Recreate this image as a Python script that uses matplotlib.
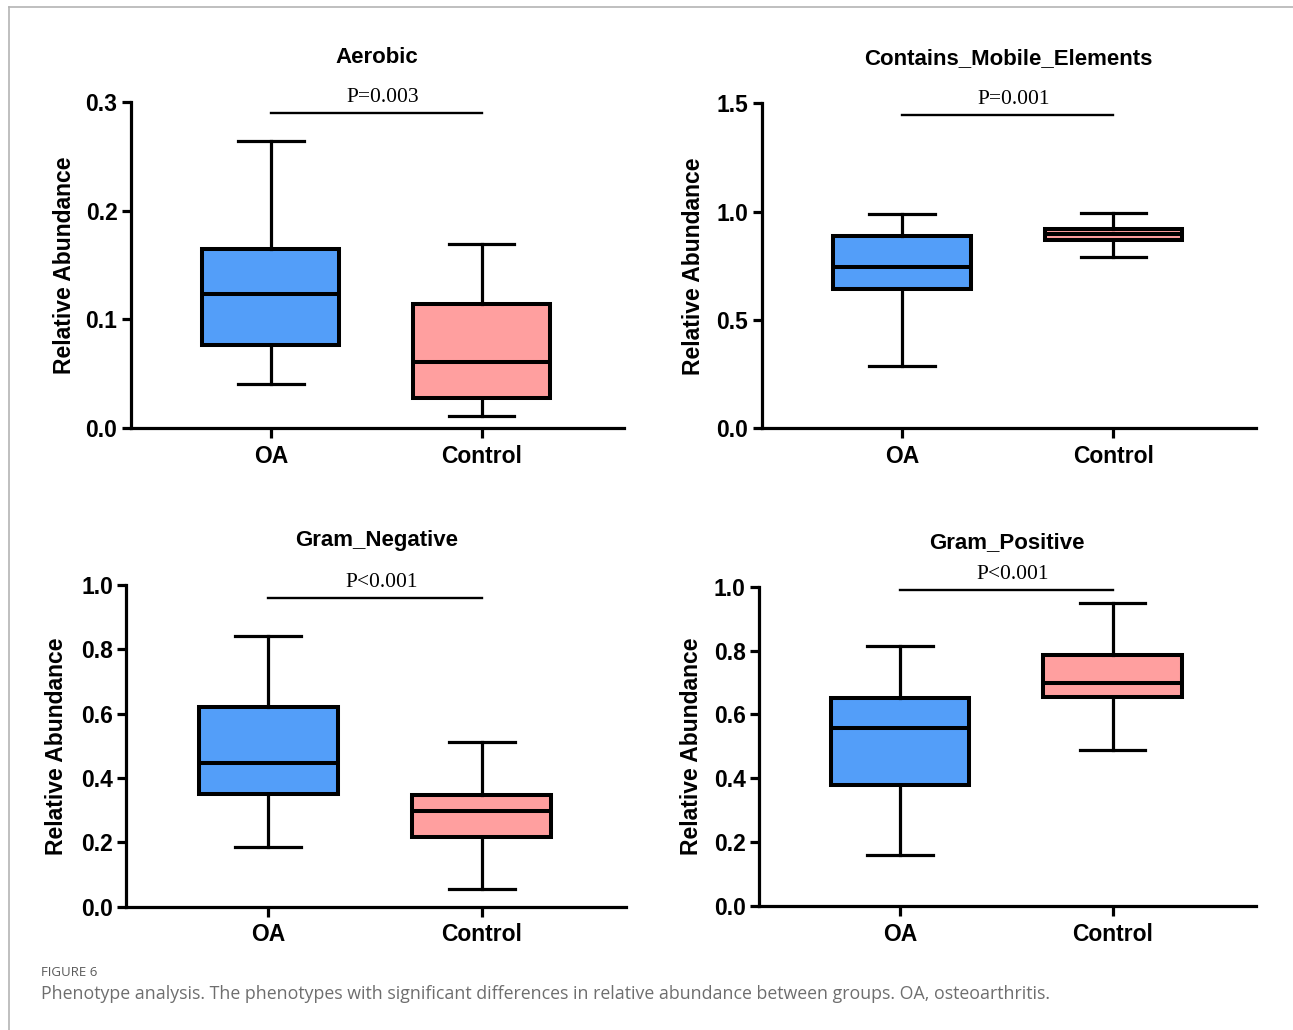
import matplotlib
matplotlib.use('agg')
import matplotlib.pyplot as plt
from matplotlib.lines import Line2D

# ---- data (whisker low, Q1, median, Q3, whisker high) ----
groups = ['OA', 'Control']
titles = ['Aerobic', 'Contains_Mobile_Elements', 'Gram_Negative', 'Gram_Positive']
pvals = ['P=0.003', 'P=0.001', 'P<0.001', 'P<0.001']

aerobic_oa = [0.0405, 0.0765, 0.123, 0.1647, 0.264]
aerobic_ctrl = [0.0113, 0.0275, 0.0612, 0.1139, 0.169]
mobile_oa = [0.2875, 0.644, 0.746, 0.887, 0.989]
mobile_ctrl = [0.792, 0.869, 0.897, 0.922, 0.995]
gneg_oa = [0.185, 0.350, 0.446, 0.622, 0.842]
gneg_ctrl = [0.054, 0.216, 0.298, 0.347, 0.511]
gpos_oa = [0.160, 0.379, 0.557, 0.651, 0.815]
gpos_ctrl = [0.489, 0.654, 0.699, 0.786, 0.948]

sig_y = [0.2893, 1.446, 0.959, 0.990]
ymax = [0.3, 1.5, 1.0, 1.0]
yticks = [[0.0, 0.1, 0.2, 0.3], [0.0, 0.5, 1.0, 1.5],
          [0.0, 0.2, 0.4, 0.6, 0.8, 1.0], [0.0, 0.2, 0.4, 0.6, 0.8, 1.0]]

panels = [(aerobic_oa, aerobic_ctrl), (mobile_oa, mobile_ctrl),
          (gneg_oa, gneg_ctrl), (gpos_oa, gpos_ctrl)]

colors = ['#539EF9', '#FF9F9F']

W, H = 1293, 1030
# axes rectangles in pixels: x0, x1, ytop, ybottom
rects = [(130.6, 624, 101.7, 428.3), (761.5, 1256, 103.3, 428.3),
         (126.4, 626, 585, 906.7), (758.7, 1256, 586.7, 906)]
ylab_x = [-0.111, -0.114, -0.117, -0.112]

plt.rcParams['font.family'] = 'Liberation Sans'
fig = plt.figure(figsize=(W / 100, H / 100), dpi=100)

lw = 2.3
for i, (oa, ctrl) in enumerate(panels):
    x0, x1, yt, yb = rects[i]
    ax = fig.add_axes([x0 / W, 1 - yb / H, (x1 - x0) / W, (yb - yt) / H])
    stats = []
    for g, v in zip(groups, (oa, ctrl)):
        stats.append(dict(label=g, whislo=v[0], q1=v[1], med=v[2], q3=v[3], whishi=v[4], fliers=[]))
    bp = ax.bxp(stats, positions=[1, 2], widths=0.65, capwidths=0.31, patch_artist=True,
                showfliers=False,
                boxprops=dict(linewidth=lw + 0.6, edgecolor='black'),
                medianprops=dict(color='black', linewidth=lw + 0.6),
                whiskerprops=dict(color='black', linewidth=lw),
                capprops=dict(color='black', linewidth=lw))
    for patch, c in zip(bp['boxes'], colors):
        patch.set_facecolor(c)

    ax.set_xlim(0.335, 2.675)
    ax.set_ylim(0, ymax[i])
    ax.set_yticks(yticks[i])
    ax.set_yticklabels(['%.1f' % t for t in yticks[i]])
    ax.set_xticks([1, 2])
    ax.set_xticklabels(groups)
    for s in ['top', 'right']:
        ax.spines[s].set_visible(False)
    for s in ['left', 'bottom']:
        ax.spines[s].set_linewidth(lw)
    ax.spines['bottom'].set_zorder(5)
    ax.tick_params(axis='y', length=6.5, width=lw, pad=3, labelsize=16.5)
    ax.tick_params(axis='x', length=7, width=lw, pad=5, labelsize=16.5)
    for lab in ax.get_xticklabels() + ax.get_yticklabels():
        lab.set_fontweight('bold')

    ax.set_ylabel('Relative Abundance', fontsize=16.5, fontweight='bold')
    ax.yaxis.set_label_coords(ylab_x[i], 0.5)
    ax.set_title(titles[i], fontsize=16, fontweight='bold', pad=28)

    # significance bar
    ax.plot([1, 2], [sig_y[i], sig_y[i]], color='black', lw=1.7, clip_on=False)
    ax.annotate(pvals[i], xy=(1.5, sig_y[i]), xytext=(4.5, 11.3), textcoords='offset points',
                ha='center', va='center', fontsize=15.5, family='Liberation Serif',
                annotation_clip=False)

# caption and page frame
fig.text(41 / W, 1 - 972 / H, 'FIGURE 6', fontsize=9.5, color='#5a5a5a', family='Open Sans',
         va='center', ha='left')
fig.text(41 / W, 1 - 994 / H,
         'Phenotype analysis. The phenotypes with significant differences in relative abundance between groups. OA, osteoarthritis.',
         fontsize=12.8, color='#6e6e6e', family='Open Sans', va='center', ha='left')
fig.add_artist(Line2D([9 / W, 1], [1 - 7 / H, 1 - 7 / H], color='#b4b4b4', lw=1.2))
fig.add_artist(Line2D([9 / W, 9 / W], [0, 1 - 7 / H], color='#b4b4b4', lw=1.2))

plt.savefig('out.png', dpi=100)
